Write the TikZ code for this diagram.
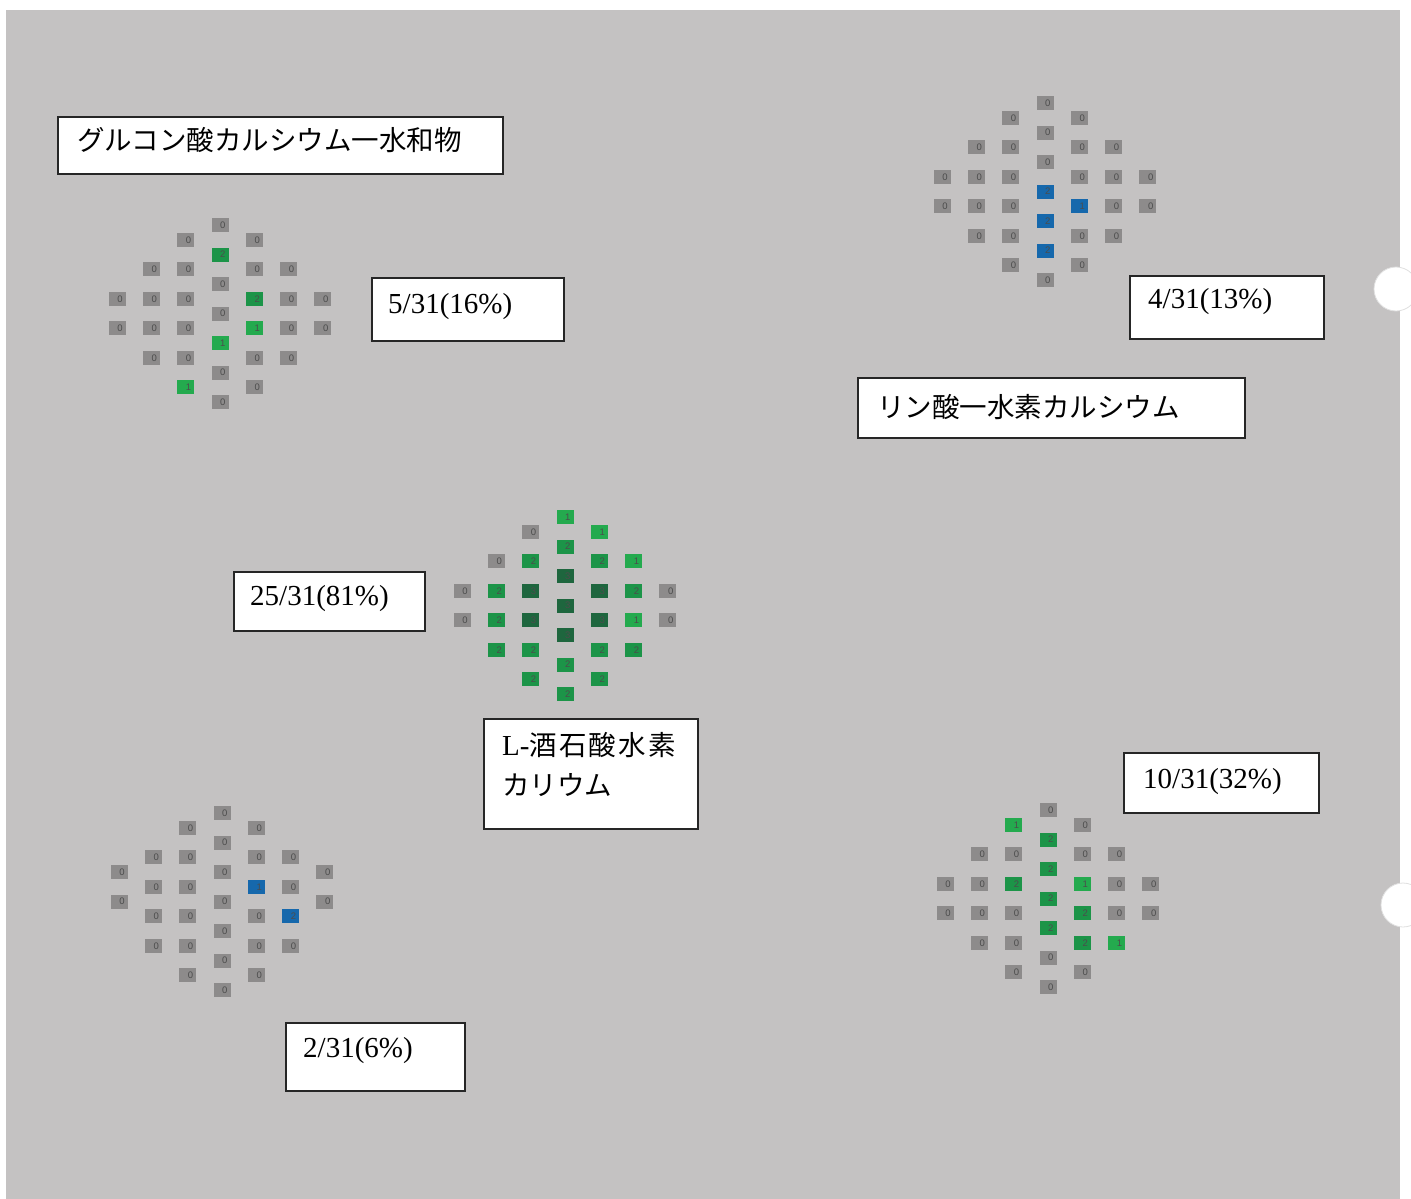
\documentclass[tikz,border=0pt]{standalone}
\usepackage{fontspec}
\setmainfont{Liberation Serif}
\newfontfamily\jpfont{Noto Sans CJK JP}
\newfontfamily\cellfont{Liberation Sans}
\definecolor{paper}{RGB}{196,194,194}
\definecolor{z0}{RGB}{141,139,139}
\definecolor{g1}{RGB}{36,170,78}
\definecolor{g2}{RGB}{28,148,72}
\definecolor{g3}{RGB}{30,102,62}
\definecolor{b1}{RGB}{22,104,172}
\definecolor{b2}{RGB}{22,104,172}
\tikzset{
    cell/.style = {rectangle, minimum height=14pt, inner xsep=3pt, inner ysep=0pt,
        text width=11pt, align=right, font=\cellfont\fontsize{9.5}{10}\selectfont, text=black!70},
    tag/.style = {draw=black!85, line width=1.8pt, fill=white, anchor=north west, inner sep=0pt},
    tagtext/.style = {anchor=base west, inner sep=0pt, font=\fontsize{29}{40}\selectfont},
    hole/.style = {fill=white, draw=black!12, line width=0.8pt}
}
% one column of a plate: name, x and y of top cell, column, first row, cells
\newcommand{\platecol}[6]{%
    \foreach \k/\v [count=\i from 0] in {#6} {
        \node[cell, fill=\k\v] (#1-#4-\i) at ({#2+#4*34.3}, {#3+(#5+2*\i)*14.75}) {\v};
    }
}

\begin{document}
\begin{tikzpicture}[x=1pt, y=-1pt]
    \useasboundingbox (0,0) rectangle (1411,1199);
    \fill[white] (0,0) rectangle (1411,1199);
    \fill[paper] (6,10) rectangle (1400,1199);
    \filldraw[hole] (1396,289) circle (22pt);
    \filldraw[hole] (1403,905) circle (22pt);

    % gluconate plate
    \platecol{gl}{220}{225}{-3}{5}{z/0,z/0}
    \platecol{gl}{220}{225}{-2}{3}{z/0,z/0,z/0,z/0}
    \platecol{gl}{220}{225}{-1}{1}{z/0,z/0,z/0,z/0,z/0,g/1}
    \platecol{gl}{220}{225}{0}{0}{z/0,g/2,z/0,z/0,g/1,z/0,z/0}
    \platecol{gl}{220}{225}{1}{1}{z/0,z/0,g/2,g/1,z/0,z/0}
    \platecol{gl}{220}{225}{2}{3}{z/0,z/0,z/0,z/0}
    \platecol{gl}{220}{225}{3}{5}{z/0,z/0}

    % phosphate plate
    \platecol{rp}{1045}{103}{-3}{5}{z/0,z/0}
    \platecol{rp}{1045}{103}{-2}{3}{z/0,z/0,z/0,z/0}
    \platecol{rp}{1045}{103}{-1}{1}{z/0,z/0,z/0,z/0,z/0,z/0}
    \platecol{rp}{1045}{103}{0}{0}{z/0,z/0,z/0,b/2,b/2,b/2,z/0}
    \platecol{rp}{1045}{103}{1}{1}{z/0,z/0,z/0,b/1,z/0,z/0}
    \platecol{rp}{1045}{103}{2}{3}{z/0,z/0,z/0,z/0}
    \platecol{rp}{1045}{103}{3}{5}{z/0,z/0}

    % tartrate plate
    \platecol{tk}{565}{517}{-3}{5}{z/0,z/0}
    \platecol{tk}{565}{517}{-2}{3}{z/0,g/2,g/2,g/2}
    \platecol{tk}{565}{517}{-1}{1}{z/0,g/2,g/3,g/3,g/2,g/2}
    \platecol{tk}{565}{517}{0}{0}{g/1,g/2,g/3,g/3,g/3,g/2,g/2}
    \platecol{tk}{565}{517}{1}{1}{g/1,g/2,g/3,g/3,g/2,g/2}
    \platecol{tk}{565}{517}{2}{3}{g/1,g/2,g/1,g/2}
    \platecol{tk}{565}{517}{3}{5}{z/0,z/0}

    % lower left plate
    \platecol{bl}{222}{813}{-3}{4}{z/0,z/0}
    \platecol{bl}{222}{813}{-2}{3}{z/0,z/0,z/0,z/0}
    \platecol{bl}{222}{813}{-1}{1}{z/0,z/0,z/0,z/0,z/0,z/0}
    \platecol{bl}{222}{813}{0}{0}{z/0,z/0,z/0,z/0,z/0,z/0,z/0}
    \platecol{bl}{222}{813}{1}{1}{z/0,z/0,b/1,z/0,z/0,z/0}
    \platecol{bl}{222}{813}{2}{3}{z/0,z/0,b/2,z/0}
    \platecol{bl}{222}{813}{3}{4}{z/0,z/0}

    % lower right plate
    \platecol{br}{1048}{810}{-3}{5}{z/0,z/0}
    \platecol{br}{1048}{810}{-2}{3}{z/0,z/0,z/0,z/0}
    \platecol{br}{1048}{810}{-1}{1}{g/1,z/0,g/2,z/0,z/0,z/0}
    \platecol{br}{1048}{810}{0}{0}{z/0,g/2,g/2,g/2,g/2,z/0,z/0}
    \platecol{br}{1048}{810}{1}{1}{z/0,z/0,g/1,g/2,g/2,z/0}
    \platecol{br}{1048}{810}{2}{3}{z/0,z/0,z/0,g/1}
    \platecol{br}{1048}{810}{3}{5}{z/0,z/0}

    % labels
    \node[tag, minimum width=445, minimum height=57] (glbox) at (57,116) {};
    \node[tagtext] (gltext) at ([shift={(20,34)}]glbox.north west) {\jpfont\fontsize{27.5}{40}\selectfont グルコン酸カルシウム一水和物};
    \node[tag, minimum width=192, minimum height=63] (glrate) at (371,277) {};
    \node[tagtext] (glratetext) at ([shift={(17,36)}]glrate.north west) {5/31(16\%)};

    \node[tag, minimum width=194, minimum height=63] (rprate) at (1129,275) {};
    \node[tagtext] (rpratetext) at ([shift={(19,33)}]rprate.north west) {4/31(13\%)};
    \node[tag, minimum width=387, minimum height=60] (rpbox) at (857,377) {};
    \node[tagtext] (rptext) at ([shift={(20,40)}]rpbox.north west) {\jpfont\fontsize{27.5}{40}\selectfont リン酸一水素カルシウム};

    \node[tag, minimum width=191, minimum height=59] (tkrate) at (233,571) {};
    \node[tagtext] (tkratetext) at ([shift={(17,34)}]tkrate.north west) {25/31(81\%)};
    \node[tag, minimum width=214, minimum height=110] (tkbox) at (483,718) {};
    \node[tagtext, align=left] (tktext) at ([shift={(19,77)}]tkbox.north west)
        {L-{\jpfont\fontsize{27.5}{40}\selectfont\addfontfeatures{LetterSpace=8}酒石酸水素}\\{\jpfont\fontsize{27.5}{40}\selectfont カリウム}};

    \node[tag, minimum width=195, minimum height=60] (brrate) at (1123,752) {};
    \node[tagtext] (bratetext) at ([shift={(20,36)}]brrate.north west) {10/31(32\%)};
    \node[tag, minimum width=179, minimum height=68] (blrate) at (285,1022) {};
    \node[tagtext] (blratetext) at ([shift={(18,35)}]blrate.north west) {2/31(6\%)};
\end{tikzpicture}
\end{document}
